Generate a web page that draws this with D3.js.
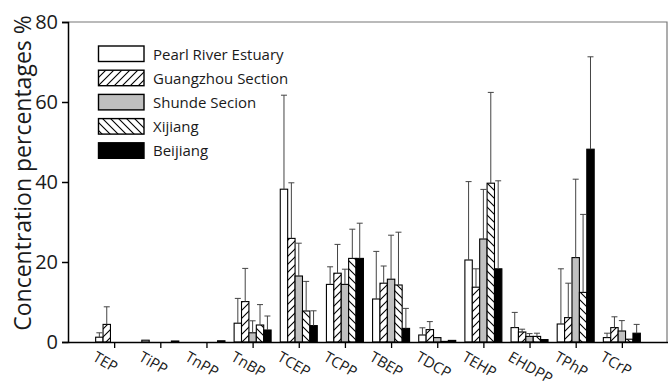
<!DOCTYPE html>
<html><head><meta charset="utf-8">
<script src="https://cdn.jsdelivr.net/npm/d3@7"></script>
<style>body{margin:0;background:#fff}svg{display:block}text{font-family:"Open Sans",sans-serif;fill:#1a1a1a}</style>
</head><body>
<script>
const categories = ["TEP","TiPP","TnPP","TnBP","TCEP","TCPP","TBEP","TDCP","TEHP","EHDPP","TPhP","TCrP"];
const seriesNames = ["Pearl River Estuary","Guangzhou Section","Shunde Secion","Xijiang","Beijiang"];
const pearlRiver    = [1.2, 0.45, 0, 4.7, 38.2, 14.4, 10.75, 1.75, 20.5, 3.6, 4.5, 1.1];
const guangzhou     = [4.4, 0, 0, 10.1, 25.9, 17.2, 14.7, 3.1, 13.7, 2.5, 6.1, 3.6];
const shunde        = [0, 0, 0, 2.3, 16.5, 14.4, 15.7, 1.1, 25.75, 1.4, 21.1, 2.75];
const xijiang       = [0, 0, 0, 4.25, 7.75, 20.9, 14.25, 0.15, 39.7, 1.4, 12.4, 0.7];
const beijiang      = [0, 0.25, 0.3, 3.0, 4.1, 20.9, 3.4, 0.4, 18.3, 0.6, 48.2, 2.2];
const pearlRiverSD  = [1.1, 0, 0, 6.2, 23.5, 4.4, 11.9, 1.8, 19.6, 3.8, 13.8, 1.1];
const guangzhouSD   = [4.4, 0, 0, 8.3, 13.9, 7.2, 4.3, 2.0, 4.6, 0.7, 8.6, 2.7];
const shundeSD      = [0, 0, 0, 3.0, 8.2, 3.8, 11.0, 0, 12.4, 0.7, 19.6, 2.6];
const xijiangSD     = [0, 0, 0, 5.1, 7.4, 7.3, 13.2, 0, 22.7, 0.8, 19.5, 0];
const beijiangSD    = [0, 0, 0, 3.5, 3.7, 8.8, 5.0, 0, 22.0, 0, 23.1, 2.2];
const yTicks = [0, 20, 40, 60, 80];

const values = [pearlRiver, guangzhou, shunde, xijiang, beijiang];
const sds = [pearlRiverSD, guangzhouSD, shundeSD, xijiangSD, beijiangSD];
const fills = ["#fff", "url(#hatchF)", "#c0c0c0", "url(#hatchB)", "#000"];

const W = 668, H = 382;
const L = 68, R = 668, T = 22, B = 342;
const svg = d3.select("body").append("svg").attr("width", W).attr("height", H);
const defs = svg.append("defs");
function hatch(id, d) {
  const p = defs.append("pattern").attr("id", id).attr("patternUnits", "userSpaceOnUse")
    .attr("width", 8).attr("height", 8);
  p.append("rect").attr("width", 8).attr("height", 8).attr("fill", "#fff");
  p.append("path").attr("d", d).attr("stroke", "#000").attr("stroke-width", 1.1).attr("fill", "none");
}
hatch("hatchF", "M-2,2 L2,-2 M0,8 L8,0 M6,10 L10,6");
hatch("hatchB", "M-2,6 L2,10 M0,0 L8,8 M6,-2 L10,2");

const x = d3.scalePoint().domain(categories).range([L, R]).padding(1);
const xs = d3.scaleBand().domain(d3.range(5)).range([-18.5, 18.5]);
const y = d3.scaleLinear().domain([0, 80]).range([B, T]);

// frame
svg.append("path").attr("d", `M${L},${T}H${R - 1}V${B}`).attr("fill", "none").attr("stroke", "#777").attr("stroke-width", 1.2);

// bars
values.forEach((vals, s) => {
  const g = svg.append("g");
  categories.forEach((c, i) => {
    const v = vals[i];
    if (v <= 0) return;
    const bx = x(c) + xs(s);
    g.append("rect").attr("x", bx).attr("y", y(v)).attr("width", xs.bandwidth())
      .attr("height", y(0) - y(v)).attr("fill", fills[s]).attr("stroke", "#000").attr("stroke-width", 1.1);
    const sd = sds[s][i];
    if (sd > 0) {
      const cx = bx + xs.bandwidth() / 2;
      g.append("path").attr("d", `M${cx},${y(v)}V${y(v + sd)}M${cx - 3},${y(v + sd)}H${cx + 3}`)
        .attr("stroke", "#444").attr("stroke-width", 1).attr("fill", "none");
    }
  });
});

// axes
const ya = svg.append("g").attr("transform", `translate(${L},0)`)
  .call(d3.axisLeft(y).tickValues(yTicks).tickSize(6).tickPadding(4));
ya.select(".domain").attr("stroke", "#000").attr("stroke-width", 1.5);
ya.selectAll(".tick line").attr("stroke", "#000").attr("stroke-width", 1.5);
ya.selectAll(".tick text").attr("font-size", 20).attr("font-family", "Open Sans").attr("fill", "#1a1a1a");

const xa = svg.append("g").attr("transform", `translate(0,${B})`)
  .call(d3.axisBottom(x).tickSize(6).tickSizeOuter(0));
xa.select(".domain").attr("stroke", "#000").attr("stroke-width", 1.5);
xa.selectAll(".tick line").attr("stroke", "#000").attr("stroke-width", 1.3);
xa.selectAll(".tick text").attr("font-size", 15).attr("font-family", "Open Sans").attr("fill", "#1a1a1a")
  .attr("text-anchor", "start").attr("dy", null).attr("y", 0)
  .attr("transform", "translate(-23,18) rotate(30)");

// y title
svg.append("text").attr("transform", `translate(31,${(T + B) / 2 - 9}) rotate(-90)`)
  .attr("text-anchor", "middle").attr("font-size", 23).text("Concentration percentages %");

// legend
const lg = svg.append("g");
seriesNames.forEach((n, s) => {
  const ty = 46 + s * 24.2;
  lg.append("rect").attr("x", 98.5).attr("y", ty).attr("width", 45.5).attr("height", 15.5)
    .attr("fill", fills[s]).attr("stroke", "#000").attr("stroke-width", 1.4);
  lg.append("text").attr("x", 153).attr("y", ty + 13.5).attr("font-size", 15).text(n);
});
</script>
</body></html>
